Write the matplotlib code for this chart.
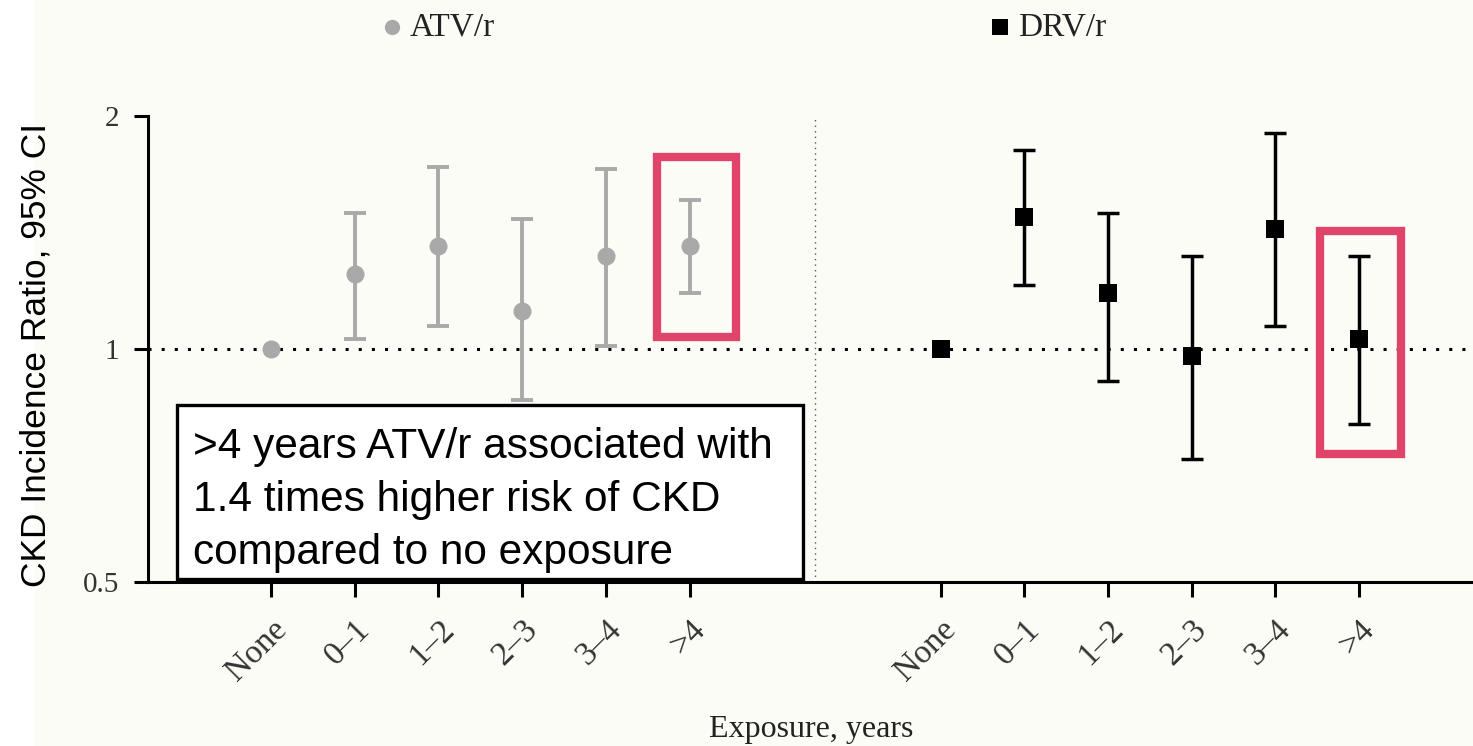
import matplotlib
matplotlib.use("Agg")
import matplotlib.pyplot as plt
from matplotlib.patches import Rectangle
from matplotlib.lines import Line2D
from matplotlib.ticker import NullLocator
import numpy as np

# ---- data -------------------------------------------------------------
exposure = ["None", "0–1", "1–2", "2–3", "3–4", ">4"]
series = ["ATV/r", "DRV/r"]

atv_ratio = [1.00, 1.25, 1.36, 1.12, 1.32, 1.36]
atv_lower = [1.00, 1.03, 1.07, 0.86, 1.01, 1.18]
atv_upper = [1.00, 1.50, 1.72, 1.47, 1.71, 1.56]

drv_ratio = [1.00, 1.48, 1.18, 0.98, 1.43, 1.03]
drv_lower = [1.00, 1.21, 0.91, 0.72, 1.07, 0.80]
drv_upper = [1.00, 1.81, 1.50, 1.32, 1.90, 1.32]

y_ticks = [0.5, 1, 2]
y_tick_labels = ["0.5", "1", "2"]

x_label = "Exposure, years"
y_label = "CKD Incidence Ratio, 95% CI"

# ---- style ------------------------------------------------------------
W, H = 1473, 746
BG = "#FCFCF7"
GREY = "#A9A9A9"
RED = "#E0446A"
SERIF = "Liberation Serif"
SANS = "Liberation Sans"

fig = plt.figure(figsize=(W / 100, H / 100), dpi=100, facecolor=BG)
fig.add_artist(Rectangle((0, 0), 34 / W, 1, transform=fig.transFigure,
                         facecolor="white", edgecolor="none", zorder=0))

ax = fig.add_axes([148 / W, 1 - 582 / H, (W - 148) / W, (582 - 116) / H])
ax.set_facecolor(BG)
ax.set_yscale("log")
ax.set_ylim(0.5, 2)

step = 83.7
ax.set_xlim(-123 / step, 1202 / step)

atv_x = np.arange(len(exposure))
drv_x = np.arange(len(exposure)) + 8


def draw_group(x, ratio, lower, upper, color, marker, lw):
    ratio = np.asarray(ratio)
    lower = np.asarray(lower)
    upper = np.asarray(upper)
    has_ci = (upper - lower) > 0
    ax.errorbar(x[has_ci], ratio[has_ci],
                yerr=[ratio[has_ci] - lower[has_ci], upper[has_ci] - ratio[has_ci]],
                fmt="none", ecolor=color, elinewidth=lw, capsize=8,
                capthick=lw, zorder=3)
    ax.plot(x, ratio, linestyle="none", marker=marker, markersize=13,
            color=color, markeredgewidth=0, zorder=4)


draw_group(atv_x, atv_ratio, atv_lower, atv_upper, GREY, "o", 2.8)
draw_group(drv_x, drv_ratio, drv_lower, drv_upper, "black", "s", 2.5)

# reference lines
ax.axhline(1, color="black", lw=2.2, ls=(0, (1, 3.3)), zorder=2)
ax.axvline(6.5, color="#555555", lw=1.0, ls=(0, (1, 3)), zorder=1)

# spines & ticks
for side in ("top", "right"):
    ax.spines[side].set_visible(False)
for side in ("left", "bottom"):
    ax.spines[side].set_linewidth(2.2)

ax.set_yticks(y_ticks)
ax.set_yticklabels(y_tick_labels, family=SERIF, fontsize=21, color="#333333")
ax.yaxis.set_minor_locator(NullLocator())
ax.tick_params(axis="y", direction="out", length=10, width=2.2, pad=11)

ax.set_xticks(np.concatenate([atv_x, drv_x]))
ax.set_xticklabels(exposure + exposure, family=SERIF, fontsize=24,
                   color="#333333", rotation=45, ha="right", va="top",
                   rotation_mode="anchor")
ax.tick_params(axis="x", direction="out", length=11, width=2.2, pad=12)

fig.text(811 / W, 1 - 730 / H, x_label, family=SERIF, fontsize=23,
         color="#222222", ha="center", va="center")
fig.text(36 / W, 1 - 355 / H, y_label, family=SANS, fontsize=25.5,
         rotation=90, ha="center", va="center", color="black")

# legend above the plot
legend_items = [(392, "o", GREY, series[0]), (1000, "s", "black", series[1])]
for px, mk, col, name in legend_items:
    fig.add_artist(Line2D([px / W], [1 - 27 / H], marker=mk, markersize=11,
                          color=col, markeredgewidth=0, linestyle="none",
                          transform=fig.transFigure))
    fig.text((px + 18) / W, 1 - 27 / H, name, family=SERIF, fontsize=24,
             color="#222222", ha="left", va="center")

# highlight boxes around the >4 year estimates
ax.add_patch(Rectangle((4.61, 1.036), 5.56 - 4.61, 1.77 - 1.036, fill=False,
                       edgecolor=RED, lw=6, zorder=6, clip_on=False))
ax.add_patch(Rectangle((12.53, 0.732), 13.50 - 12.53, 1.42 - 0.732, fill=False,
                       edgecolor=RED, lw=6, zorder=6, clip_on=False))

# call-out box
fig.add_artist(Rectangle((177 / W, 1 - 579 / H), (803 - 177) / W, (579 - 405) / H,
                         transform=fig.transFigure, facecolor="white",
                         edgecolor="black", lw=2.4, zorder=7))
callout = [
    ">4 years ATV/r associated with",
    f"{atv_ratio[-1]:.1f} times higher risk of CKD",
    "compared to no exposure",
]
for i, line in enumerate(callout):
    fig.text(193 / W, 1 - (458 + 53 * i) / H, line, family=SANS, fontsize=30.5,
             color="black", ha="left", va="baseline", zorder=8)

fig.savefig("out.png", dpi=100, facecolor=fig.get_facecolor())
